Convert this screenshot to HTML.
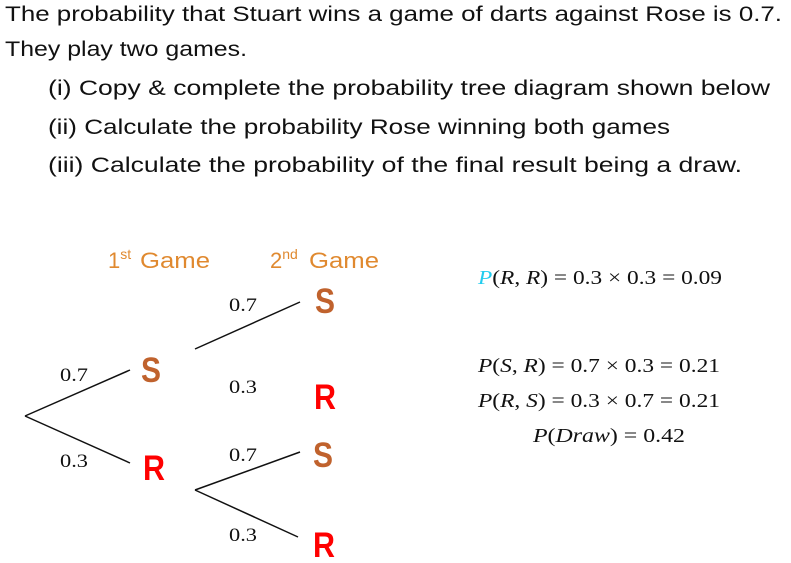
<!DOCTYPE html>
<html><head><meta charset="utf-8"><style>
html,body{margin:0;padding:0;background:#fff;width:791px;height:563px;overflow:hidden}
svg{display:block}
.q{font-family:"Liberation Sans",sans-serif;font-size:21px;fill:#111}
.h{font-family:"Liberation Sans",sans-serif;font-size:22px;fill:#E0892F}
.p{font-family:"Liberation Serif",serif;font-size:19px;fill:#111}
.S{font-family:"Liberation Sans",sans-serif;font-weight:bold;font-size:35px;fill:#C0622D}
.R{font-family:"Liberation Sans",sans-serif;font-weight:bold;font-size:35px;fill:#FF0000}
.m{font-family:"Liberation Serif",serif;font-size:20px;fill:#111}
line{stroke:#111;stroke-width:1.5}
</style></head><body>
<svg width="791" height="563">
<g>
<text class="q" x="5" y="21" textLength="777" lengthAdjust="spacingAndGlyphs">The probability that Stuart wins a game of darts against Rose is 0.7.</text>
<text class="q" x="5" y="56" textLength="242" lengthAdjust="spacingAndGlyphs">They play two games.</text>
<text class="q" x="48" y="95" textLength="722" lengthAdjust="spacingAndGlyphs">(i) Copy &amp; complete the probability tree diagram shown below</text>
<text class="q" x="48" y="134" textLength="622" lengthAdjust="spacingAndGlyphs">(ii) Calculate the probability Rose winning both games</text>
<text class="q" x="48" y="172" textLength="694" lengthAdjust="spacingAndGlyphs">(iii) Calculate the probability of the final result being a draw.</text>
</g>
<text class="h" x="108" y="268">1<tspan font-size="14" dy="-9">st</tspan><tspan dy="9" x="140" textLength="70" lengthAdjust="spacingAndGlyphs">Game</tspan></text>
<text class="h" x="270" y="268">2<tspan font-size="14" dy="-9">nd</tspan><tspan dy="9" x="309" textLength="70" lengthAdjust="spacingAndGlyphs">Game</tspan></text>
<g>
<line x1="25" y1="416" x2="130" y2="370"/>
<line x1="25" y1="416" x2="130" y2="463"/>
<line x1="195" y1="349" x2="300" y2="302"/>
<line x1="195" y1="490" x2="300" y2="452"/>
<line x1="195" y1="490" x2="298" y2="537"/>
</g>
<g>
<text class="p" x="60" y="381" textLength="28" lengthAdjust="spacingAndGlyphs">0.7</text>
<text class="p" x="60" y="467" textLength="28" lengthAdjust="spacingAndGlyphs">0.3</text>
<text class="p" x="229" y="311" textLength="28" lengthAdjust="spacingAndGlyphs">0.7</text>
<text class="p" x="229" y="393" textLength="28" lengthAdjust="spacingAndGlyphs">0.3</text>
<text class="p" x="229" y="461" textLength="28" lengthAdjust="spacingAndGlyphs">0.7</text>
<text class="p" x="229" y="541" textLength="28" lengthAdjust="spacingAndGlyphs">0.3</text>
</g>
<g>
<text class="S" x="141" y="382" textLength="20" lengthAdjust="spacingAndGlyphs">S</text>
<text class="R" x="143" y="480" textLength="22" lengthAdjust="spacingAndGlyphs">R</text>
<text class="S" x="315" y="313" textLength="20" lengthAdjust="spacingAndGlyphs">S</text>
<text class="R" x="314" y="409" textLength="22" lengthAdjust="spacingAndGlyphs">R</text>
<text class="S" x="313" y="467" textLength="20" lengthAdjust="spacingAndGlyphs">S</text>
<text class="R" x="313" y="557" textLength="22" lengthAdjust="spacingAndGlyphs">R</text>
</g>
<g>
<text class="m" x="478" y="284" textLength="244" lengthAdjust="spacingAndGlyphs"><tspan font-style="italic" fill="#22CCEE">P</tspan>(<tspan font-style="italic">R</tspan>, <tspan font-style="italic">R</tspan>) = 0.3 × 0.3 = 0.09</text>
<text class="m" x="478" y="372" textLength="242" lengthAdjust="spacingAndGlyphs"><tspan font-style="italic">P</tspan>(<tspan font-style="italic">S</tspan>, <tspan font-style="italic">R</tspan>) = 0.7 × 0.3 = 0.21</text>
<text class="m" x="478" y="407" textLength="242" lengthAdjust="spacingAndGlyphs"><tspan font-style="italic">P</tspan>(<tspan font-style="italic">R</tspan>, <tspan font-style="italic">S</tspan>) = 0.3 × 0.7 = 0.21</text>
<text class="m" x="533" y="442" textLength="152" lengthAdjust="spacingAndGlyphs"><tspan font-style="italic">P</tspan>(<tspan font-style="italic">Draw</tspan>) = 0.42</text>
</g>
</svg>
</body></html>
